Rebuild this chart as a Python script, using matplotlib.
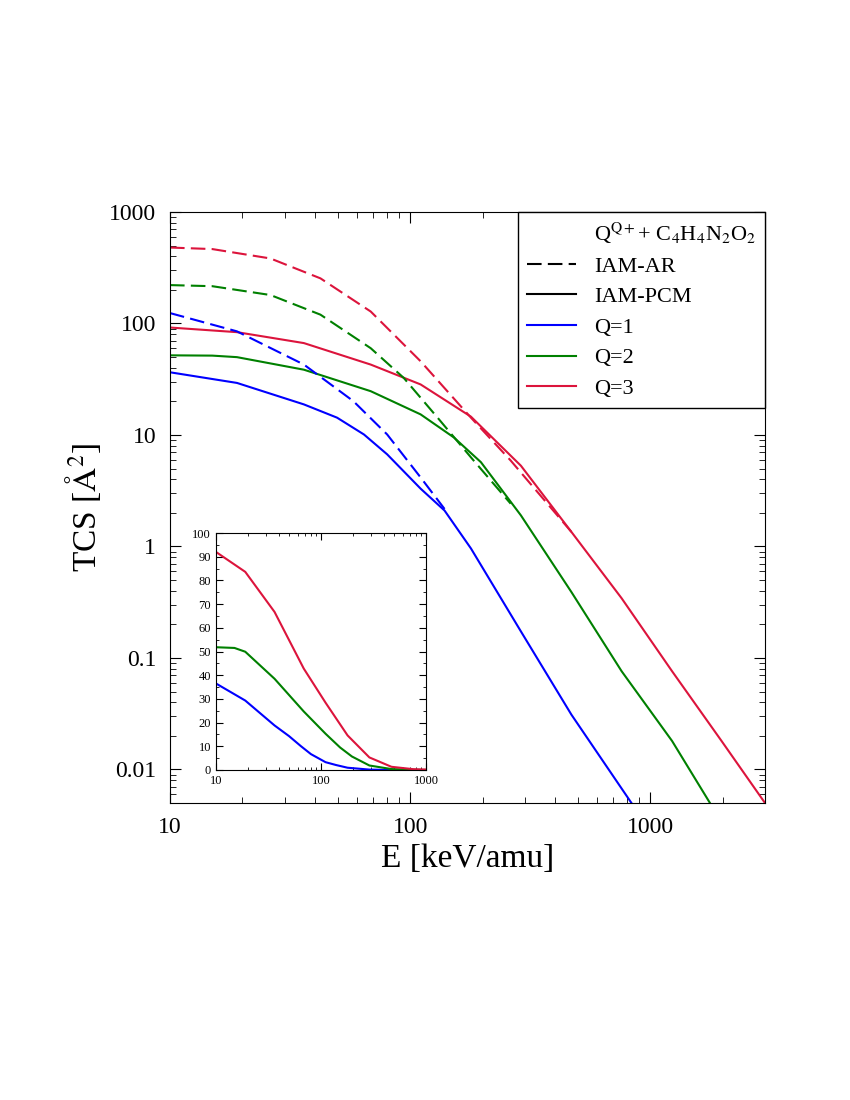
import matplotlib
matplotlib.use("Agg")
import matplotlib.pyplot as plt
from matplotlib.lines import Line2D

plt.rcParams['font.family'] = 'Liberation Serif'
plt.rcParams['mathtext.fontset'] = 'stix'

E1 = [10, 19, 36.1, 49.6, 64.2, 80.2, 110.5, 139, 179, 289, 469, 834]
pcm1 = [36.5, 29.3, 18.8, 14.3, 10.1, 6.7, 3.3, 2.1, 0.96, 0.173, 0.031, 0.005]
E2 = [10, 15, 19, 36.1, 68.5, 110.5, 152, 197, 289, 469, 759, 1231, 1770]
pcm2 = [51.8, 51.5, 49.9, 38.5, 24.7, 15.3, 9.5, 5.7, 1.9, 0.39, 0.076, 0.018, 0.005]
E3 = [10, 19, 36.1, 68.5, 110.5, 179, 289, 469, 759, 1231, 1978, 3000]
pcm3 = [92, 83.6, 66.7, 42.8, 28.4, 14.6, 5.3, 1.35, 0.343, 0.076, 0.018, 0.005]

Ea1 = [10, 19, 36.1, 58, 80.2, 110.5, 139]
ar1 = [124, 85, 42.8, 20.1, 10.1, 4.16, 2.17]
Ea2 = [10, 15, 26.2, 42.3, 68.5, 94, 130, 179, 262]
ar2 = [221, 216, 180, 120, 60, 32.5, 14.3, 6.3, 2.42]
Ea3 = [10, 15, 26.2, 42.3, 68.5, 110.5, 179, 262, 469]
ar3 = [480, 465, 383, 254, 128, 45.8, 14.3, 5.9, 1.35]

colors = ['#0000ff', '#008000', '#dc143c']

fig = plt.figure(figsize=(8.5, 11), dpi=100)
ax = fig.add_axes([170/850, 1-803/1100, 595/850, 591/1100])
for E, v, c in [(E1, pcm1, colors[0]), (E2, pcm2, colors[1]), (E3, pcm3, colors[2])]:
    ax.plot(E, v, color=c, lw=1.5)
for E, v, c in [(Ea1, ar1, colors[0]), (Ea2, ar2, colors[1]), (Ea3, ar3, colors[2])]:
    ax.plot(E, v, color=c, lw=1.5, ls=(0, (7, 3)))
ax.set_xscale('log'); ax.set_yscale('log')
ax.set_xlim(10, 3000); ax.set_ylim(0.005, 1000)
ax.set_xticks([10, 100, 1000]); ax.set_xticklabels(['10', '100', '1000'])
ax.set_yticks([0.01, 0.1, 1, 10, 100, 1000])
ax.set_yticklabels(['0.01', '0.1', '1', '10', '100', '1000'])
ax.tick_params(which='both', direction='in', top=True, right=True, labelsize=17)
ax.tick_params(which='major', length=8, pad=10)
ax.tick_params(which='minor', length=4)
ax.set_xlabel('E [keV/amu]', fontsize=24)
ax.set_ylabel(r'TCS [$\mathrm{\AA}^2$]', fontsize=24)

handles = [Line2D([], [], color='none'),
           Line2D([], [], color='k', ls=(0, (7, 3)), lw=1.5),
           Line2D([], [], color='k', lw=1.5),
           Line2D([], [], color=colors[0], lw=1.5),
           Line2D([], [], color=colors[1], lw=1.5),
           Line2D([], [], color=colors[2], lw=1.5)]
labels = [r'Q$^{\mathrm{Q+}}$+ C$_4$H$_4$N$_2$O$_2$', 'IAM-AR', 'IAM-PCM', 'Q=1', 'Q=2', 'Q=3']
leg = ax.legend(handles, labels, loc='upper right', fontsize=16, fancybox=False,
                edgecolor='k', framealpha=1, handlelength=2.2, borderaxespad=0,
                labelspacing=0.45)
leg.get_frame().set_linewidth(1)

ins = fig.add_axes([216/850, 1-770/1100, 210/850, 237/1100])
for E, v, c in [(E1, pcm1, colors[0]), (E2, pcm2, colors[1]), (E3, pcm3, colors[2])]:
    ins.plot(E, v, color=c, lw=1.5)
ins.set_xscale('log')
ins.set_xlim(10, 1000); ins.set_ylim(0, 100)
ins.set_xticks([10, 100, 1000]); ins.set_xticklabels(['10', '100', '1000'])
ins.set_yticks(range(0, 101, 10))
ins.set_yticks(range(0, 101, 5), minor=True)
ins.tick_params(which='both', direction='in', top=True, right=True, labelsize=9)
ins.tick_params(which='major', length=5)
ins.tick_params(which='minor', length=2.5)

fig.savefig('out.png', dpi=100)
